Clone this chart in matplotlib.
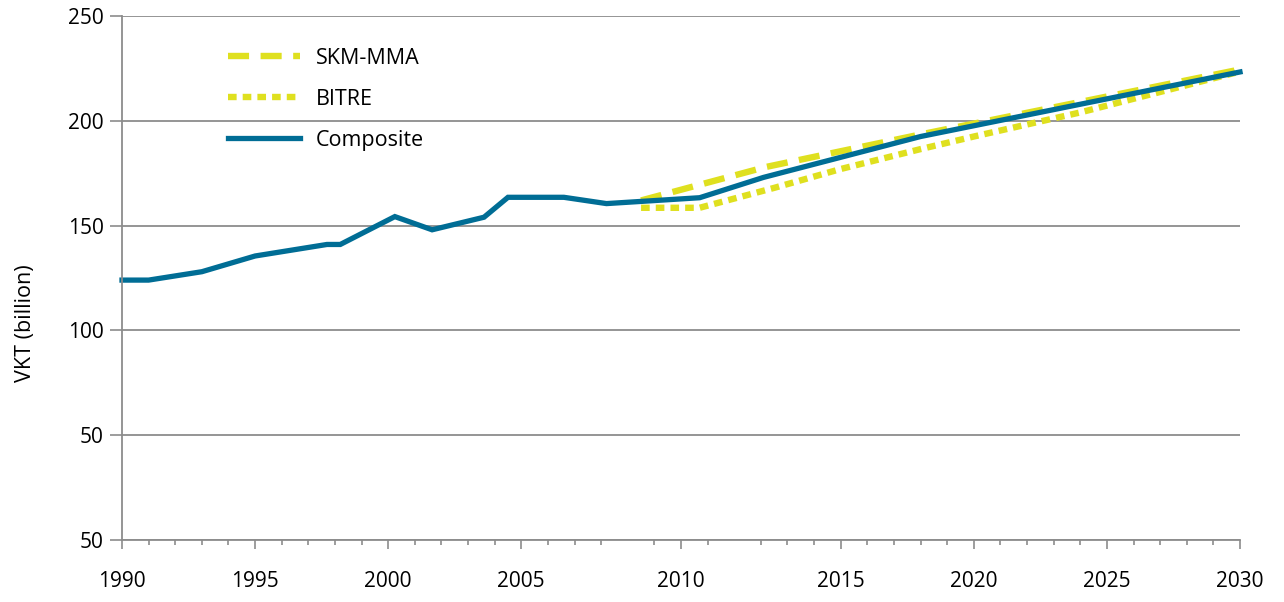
import matplotlib
matplotlib.use('Agg')
import matplotlib.pyplot as plt
from matplotlib.ticker import FixedLocator

plt.rcParams['font.family'] = ['Open Sans', 'DejaVu Sans']

# x positions are in the chart's own axis units (0 = 1990 ... 42 = 2030)
tick_pos = [0, 5, 10, 15, 21, 27, 32, 37, 42]
tick_labels = ['1990', '1995', '2000', '2005', '2010', '2015', '2020', '2025', '2030']
missing_minor = [19, 23]

y_ticks = [0, 50, 100, 150, 200, 250]
y_labels = ['50', '50', '100', '150', '200', '250']

comp_x = [0, 1, 3, 5, 7.7, 8.2, 10.25, 11.65, 13.6, 14.5, 16.6, 18.2, 21.7, 24.1, 30, 42]
comp_y = [124, 124, 128, 135.5, 141, 141, 154.3, 148, 154, 163.5, 163.5, 160.5, 163.3, 173, 192.5, 223.3]

skm_x = [19.5, 24.2, 30, 42]
skm_y = [162, 178, 193.5, 224.5]

bitre_x = [19.5, 21.7, 24.5, 27, 30, 32, 36, 42]
bitre_y = [158.5, 158.5, 168, 177, 186.5, 192.5, 204, 223.5]

yellow = '#dfe01f'
blue = '#006d95'
grey = '#8c8c8c'

fig = plt.figure(figsize=(12.84, 6.02), dpi=100)
ax = fig.add_axes([122/1284, 1 - 540/602, (1240-122)/1284, (540-16)/602])

ax.plot(skm_x, skm_y, color=yellow, lw=4.6, dashes=(3.3, 1.8), label='SKM-MMA')
ax.plot(bitre_x, bitre_y, color=yellow, lw=4.6, dashes=(1.35, 0.95), label='BITRE')
ax.plot(comp_x, comp_y, color=blue, lw=3.8, label='Composite',
        solid_joinstyle='miter', clip_on=False)

ax.set_xlim(0, 42)
ax.set_ylim(0, 250)

ax.set_yticks(y_ticks)
ax.set_yticklabels(y_labels)
ax.yaxis.grid(True, color=grey, lw=1.3)
ax.set_axisbelow(True)

ax.set_xticks(tick_pos)
ax.set_xticklabels(tick_labels)
minor = [i for i in range(43) if i not in tick_pos and i not in missing_minor]
ax.xaxis.set_minor_locator(FixedLocator(minor))

ax.tick_params(axis='x', which='major', length=6.5, width=1.2, color=grey,
               labelsize=15, pad=16)
ax.tick_params(axis='x', which='minor', length=3.3, width=1.2, color=grey)
ax.tick_params(axis='y', length=9, width=1.2, color=grey, labelsize=15, pad=4)

for s in ['top', 'right']:
    ax.spines[s].set_visible(False)
for s in ['left', 'bottom']:
    ax.spines[s].set_color(grey)
    ax.spines[s].set_linewidth(1.3)

fig.text(26/1284, 1 - 323/602, 'VKT (billion)', rotation=90, fontsize=15.5,
         ha='center', va='center')

leg = ax.legend(loc='upper left', bbox_to_anchor=(0.0945, 0.939), frameon=False,
                fontsize=15.5, handlelength=3.35, handletextpad=0.75,
                labelspacing=0.93, borderpad=0, borderaxespad=0)

fig.savefig('out.png', dpi=100)
